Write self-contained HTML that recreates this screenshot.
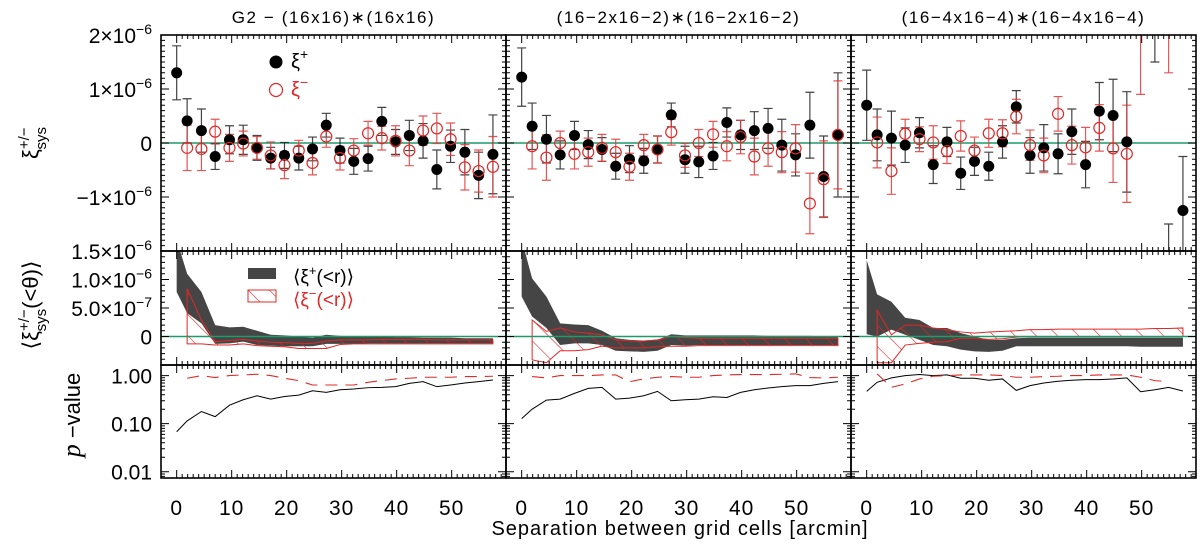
<!DOCTYPE html>
<html><head><meta charset="utf-8"><style>
html,body{margin:0;padding:0;background:#fff;}
svg{display:block;font-family:"Liberation Sans","DejaVu Sans",sans-serif;}
</style></head><body>
<svg id="chart" width="1200" height="550" viewBox="0 0 1200 550" xmlns="http://www.w3.org/2000/svg">
<defs>
<pattern id="hatch" patternUnits="userSpaceOnUse" width="15" height="15" patternTransform="rotate(-45)">
<line x1="0" y1="0" x2="0" y2="15" stroke="#e02828" stroke-width="1.2"/>
</pattern>
</defs>
</svg>
<script>
// ---------- data ----------
const panelTitles = ["G2 \u2212 (16x16)\u2217(16x16)", "(16\u22122x16\u22122)\u2217(16\u22122x16\u22122)", "(16\u22124x16\u22124)\u2217(16\u22124x16\u22124)"];
const sep = [0,1.9,4.5,7,9.6,12.1,14.6,17.1,19.6,22.2,24.7,27.2,29.7,32.2,34.8,37.3,39.8,42.3,44.8,47.3,49.8,52.4,54.9,57.5];
const xTicks = [0,10,20,30,40,50];
const topTickVals = [2,1,0,-1,-2];
const topTickMant = ["2","1","0","\u22121",""];
const midTickVals = [1.5,1.0,0.5,0];
const midTickMant = ["1.5","1.0","5.0","0"];
const midTickExp = ["\u22126","\u22126","\u22127",""];
const botTickVals = [1,0.1,0.01];
const botTickLabels = ["1.00","0.10","0.01"];

// xi+ / xi- points (units 1e-6)
const p1Plus = [1.30,0.41,0.23,-0.25,0.06,0.06,-0.09,-0.28,-0.23,-0.28,-0.11,0.33,-0.14,-0.34,-0.29,0.40,0.02,0.14,0.04,-0.49,-0.06,-0.17,-0.6,-0.21];
const p1PlusErr = [.5,.41,.4,.24,.26,.27,.23,.2,.24,.22,.22,.22,.23,.24,.23,.26,.23,.28,.32,.36,.3,.42,.43,.73];
const p1Minus = [null,-0.09,-0.11,0.21,-0.09,-0.01,-0.09,-0.23,-0.41,-0.14,-0.37,0.12,-0.28,-0.14,0.18,0.09,0.04,-0.14,0.23,0.27,0.07,-0.45,-0.52,-0.44];
const p1MinusErr = [null,.42,.4,.23,.25,.23,.21,.25,.25,.19,.22,.2,.22,.22,.22,.22,.28,.28,.27,.28,.3,.42,.39,.56];
const p2Plus = [1.22,0.31,0.07,-0.22,0.14,-0.03,-0.12,-0.43,-0.3,-0.33,-0.12,0.52,-0.31,-0.35,-0.24,0.38,0.15,0.23,0.27,-0.04,-0.22,0.33,-0.62,0.15];
const p2PlusErr = [.54,.43,.44,.26,.26,.26,.22,.24,.25,.23,.25,.22,.25,.29,.25,.27,.27,.35,.37,.48,.39,.61,.75,1.15];
const p2Minus = [null,-0.06,-0.27,0,-0.2,-0.17,-0.09,-0.17,-0.44,-0.04,-0.12,0.2,-0.23,0,0.16,-0.06,0.11,-0.25,-0.1,-0.17,-0.1,-1.12,-0.67,0.15];
const p2MinusErr = [null,.42,.42,.22,.28,.26,.25,.24,.25,.2,.25,.24,.22,.25,.24,.27,.31,.34,.33,.38,.44,.56,.71,1.0];
const p3Plus = [0.70,0.15,0.09,-0.04,0.19,-0.4,0.02,-0.56,-0.34,-0.43,0.02,0.67,-0.23,-0.09,-0.2,0.21,-0.4,0.59,0.51,0.02,null,2.6,-2.9,-1.25];
const p3PlusErr = [.65,.48,.5,.32,.28,.35,.27,.3,.26,.26,.3,.3,.33,.43,.37,.42,.43,.53,.67,.93,null,1.1,1.4,1.0];
const p3Minus = [null,0.01,-0.52,0.17,0.07,0.01,-0.15,0.13,-0.14,0.18,0.18,0.49,-0.04,-0.23,0.54,-0.04,-0.08,0.28,-0.1,-0.2,2.2,null,2.5,null];
const p3MinusErr = [null,.47,.43,.27,.23,.31,.23,.28,.25,.26,.25,.32,.28,.32,.32,.35,.37,.43,.63,.9,1.3,null,1.2,null];

// cumulative bands (units 1e-6)
const b1PlusHi = [1.7,1.10,0.78,0.20,0.16,0.17,0.10,0.03,0.02,0.00,-0.02,0.03,0.01,0.0,0.0,0.0,-0.01,-0.01,-0.02,-0.02,-0.02,-0.03,-0.03,-0.03];
const b1PlusLo = [0.78,0.41,0.23,-0.13,-0.12,-0.09,-0.15,-0.16,-0.17,-0.17,-0.17,-0.13,-0.13,-0.13,-0.12,-0.12,-0.12,-0.12,-0.12,-0.12,-0.12,-0.12,-0.12,-0.12];
const b1MinusHi = [null,0.84,0.29,-0.09,-0.07,-0.05,-0.08,-0.10,-0.11,-0.12,-0.12,-0.08,-0.06,-0.06,-0.06,-0.05,-0.05,-0.05,-0.05,-0.06,-0.06,-0.06,-0.06,-0.06];
const b1MinusLo = [null,-0.13,-0.13,-0.15,-0.15,-0.13,-0.16,-0.17,-0.18,-0.21,-0.21,-0.21,-0.14,-0.13,-0.13,-0.13,-0.13,-0.13,-0.13,-0.13,-0.13,-0.13,-0.13,-0.13];
const b2PlusHi = [1.7,1.02,0.70,0.23,0.21,0.20,0.10,-0.03,-0.06,-0.07,-0.06,0.04,0.02,0.02,0.02,0.02,0.02,0.02,0.01,0.01,0.01,0.01,0.0,0.0];
const b2PlusLo = [0.70,0.35,0.15,-0.15,-0.12,-0.12,-0.15,-0.25,-0.26,-0.27,-0.25,-0.15,-0.16,-0.15,-0.15,-0.15,-0.15,-0.15,-0.15,-0.15,-0.15,-0.15,-0.15,-0.15];
const b2MinusHi = [null,0.29,0.09,0.15,0.08,0.06,0.03,-0.06,-0.08,-0.08,-0.06,0.0,-0.02,-0.03,-0.03,-0.03,-0.03,-0.03,-0.03,-0.03,-0.03,-0.03,-0.03,-0.03];
const b2MinusLo = [null,-0.41,-0.46,-0.25,-0.25,-0.23,-0.17,-0.2,-0.2,-0.2,-0.18,-0.17,-0.17,-0.16,-0.16,-0.16,-0.16,-0.16,-0.16,-0.16,-0.16,-0.16,-0.16,-0.16];
const b3PlusHi = [1.34,0.74,0.61,0.33,0.29,0.15,0.15,0.06,0.0,-0.06,-0.06,-0.03,-0.02,-0.02,-0.02,-0.02,-0.02,-0.02,-0.02,-0.02,-0.02,-0.02,-0.02,-0.02];
const b3PlusLo = [0.04,0.0,0.12,0.03,-0.06,-0.15,-0.17,-0.23,-0.26,-0.27,-0.25,-0.17,-0.17,-0.17,-0.17,-0.17,-0.17,-0.17,-0.17,-0.17,-0.18,-0.18,-0.18,-0.18];
const b3MinusHi = [null,0.46,0.03,0.20,0.20,0.15,0.12,0.08,0.06,0.08,0.09,0.10,0.12,0.12,0.13,0.13,0.13,0.13,0.13,0.13,0.13,0.14,0.14,0.15];
const b3MinusLo = [null,-0.46,-0.46,-0.15,-0.12,-0.10,-0.09,-0.03,-0.03,-0.05,-0.04,-0.01,0,0,0,0,0,0,0,0,0,0,0,0];

// p-values
const pv1Plus = [0.068,0.114,0.179,0.140,0.242,0.314,0.380,0.324,0.368,0.393,0.484,0.447,0.508,0.525,0.560,0.569,0.588,0.690,0.748,0.588,0.637,0.702,0.748,0.811];
const pv1Minus = [null,0.88,1.0,0.908,1.0,1.033,1.066,1.0,0.88,0.785,0.637,0.637,0.637,0.637,0.725,0.785,0.851,0.88,0.923,0.923,0.923,0.953,0.953,0.968];
const pv2Plus = [0.127,0.2,0.309,0.324,0.426,0.542,0.569,0.324,0.340,0.380,0.469,0.299,0.314,0.324,0.362,0.351,0.447,0.508,0.551,0.588,0.617,0.617,0.690,0.748];
const pv2Minus = [null,0.953,0.894,1.0,1.0,1.0,1.033,1.033,0.748,0.851,0.923,0.953,0.923,0.923,1.0,1.033,1.05,1.05,1.05,1.066,1.084,0.908,0.894,0.923];
const pv3Plus = [0.469,0.725,0.894,1.0,1.05,1.0,1.033,0.88,0.88,0.798,0.851,0.492,0.617,0.702,0.761,0.798,0.824,0.824,0.851,0.894,0.462,0.508,0.569,0.477];
const pv3Minus = [null,1.084,0.569,0.669,0.851,0.968,1.0,1.033,1.033,1.033,1.0,0.923,0.923,0.953,0.968,1.0,1.0,1.033,1.033,1.033,0.923,0.785,0.748,null];

const plusSets = [p1Plus,p2Plus,p3Plus], plusErrSets=[p1PlusErr,p2PlusErr,p3PlusErr];
const minusSets = [p1Minus,p2Minus,p3Minus], minusErrSets=[p1MinusErr,p2MinusErr,p3MinusErr];
const bandPH=[b1PlusHi,b2PlusHi,b3PlusHi], bandPL=[b1PlusLo,b2PlusLo,b3PlusLo];
const bandMH=[b1MinusHi,b2MinusHi,b3MinusHi], bandML=[b1MinusLo,b2MinusLo,b3MinusLo];
const pvP=[pv1Plus,pv2Plus,pv3Plus], pvM=[pv1Minus,pv2Minus,pv3Minus];

// ---------- layout ----------
const NS="http://www.w3.org/2000/svg";
const svg=document.getElementById('chart');
const PW=345, X0=161, XMIN=-2.85, XS=5.5;
const TOP={y0:35,y1:251,min:-2,max:2};
const MID={y0:251,y1:365,min:-0.5,max:1.5};
const BOT={y0:365,y1:478,min:-2.13,max:0.22};
function el(tag,attrs,parent){const e=document.createElementNS(NS,tag);for(const k in attrs)e.setAttribute(k,attrs[k]);(parent||svg).appendChild(e);return e;}
function xPix(p,v){return X0+p*PW+(v-XMIN)*XS;}
function yLin(r,v){return r.y1-(v-r.min)/(r.max-r.min)*(r.y1-r.y0);}
function yLog(v){return yLin(BOT,Math.log10(v));}

for(let p=0;p<3;p++){
  [TOP,MID,BOT].forEach((r,i)=>{
    const cp=el('clipPath',{id:'c'+p+'_'+i});
    el('rect',{x:X0+p*PW,y:r.y0,width:PW,height:r.y1-r.y0},cp);
  });
}

for(let p=0;p<3;p++){
  const L=X0+p*PW, R=L+PW;
  const g=el('g',{});
  
  

  const t=el('text',{x:L+PW/2,y:23,'text-anchor':'middle','font-size':'17','letter-spacing':'1.6'},g);
  
  
  t.textContent=panelTitles[p];

  // ---- top panel ----
  const gt=el('g',{'clip-path':'url(#c'+p+'_0)'},g);
  
  
  el('line',{x1:L,x2:R,y1:yLin(TOP,0),y2:yLin(TOP,0),stroke:'#1f9a6a','stroke-width':1.6},gt);
  const drawErr=(vals,errs,color,op)=>{
    vals.forEach((v,i)=>{ if(v===null)return; const x=xPix(p,sep[i]), e=errs[i];
      const y1=yLin(TOP,v+e), y2=yLin(TOP,v-e);
      const eb=el('path',{d:`M${x},${y1}V${y2}M${x-4.5},${y1}H${x+4.5}M${x-4.5},${y2}H${x+4.5}`,stroke:color,'stroke-width':1.2,fill:'none',opacity:op},gt);
      
      
    });
  };
  drawErr(plusSets[p],plusErrSets[p],'#222',0.85);
  drawErr(minusSets[p],minusErrSets[p],'#e03a3a',0.85);
  plusSets[p].forEach((v,i)=>{ if(v===null)return;
    const c=el('circle',{cx:xPix(p,sep[i]),cy:yLin(TOP,v),r:5.5,fill:'#000'},gt);
    
    
  });
  minusSets[p].forEach((v,i)=>{ if(v===null)return;
    const c=el('circle',{cx:xPix(p,sep[i]),cy:yLin(TOP,v),r:5.5,fill:'none',stroke:'#e02828','stroke-width':1.2},gt);
    
    
  });

  // ---- middle panel ----
  const gm=el('g',{'clip-path':'url(#c'+p+'_1)'},g);
  
  
  const bandPath=(hi,lo)=>{
    const up=[],dn=[];
    hi.forEach((v,i)=>{ if(v===null)return; up.push(xPix(p,sep[i])+','+yLin(MID,v)); dn.unshift(xPix(p,sep[i])+','+yLin(MID,lo[i])); });
    return 'M'+up.join('L')+'L'+dn.join('L')+'Z';
  };
  const bp=el('path',{d:bandPath(bandPH[p],bandPL[p]),fill:'#454545'},gm);
  
  
  const bm=el('path',{d:bandPath(bandMH[p],bandML[p]),fill:'url(#hatch)',stroke:'#e02828','stroke-width':1},gm);
  
  
  el('line',{x1:L,x2:R,y1:yLin(MID,0),y2:yLin(MID,0),stroke:'#1f9a6a','stroke-width':1.6},gm);

  // ---- bottom panel ----
  const gb=el('g',{'clip-path':'url(#c'+p+'_2)'},g);
  
  
  const linePath=(vals)=>{let d='';vals.forEach((v,i)=>{if(v===null)return;d+=(d?'L':'M')+xPix(p,sep[i])+','+yLog(v);});return d;};
  const lp=el('path',{d:linePath(pvP[p]),stroke:'#000','stroke-width':1,fill:'none'},gb);
  
  
  const lm=el('path',{d:linePath(pvM[p]),stroke:'#e02828','stroke-width':1.1,fill:'none','stroke-dasharray':'12,8'},gb);
  
  

  // ---- frames & ticks ----
  let d='';
  [TOP,MID,BOT].forEach((r,ri)=>{
    for(let v=0;v<=59;v++){ const x=xPix(p,v); const len=(v%10===0)?8:4;
      d+=`M${x},${r.y1}v${-len}M${x},${r.y0}v${len}`; }
    if(ri<2){
      const step=0.1;
      for(let k=Math.round(r.min/step);k<=Math.round(r.max/step);k++){
        const v=k*step, y=yLin(r,v); const major=(ri===0? k%10===0 : k%5===0);
        const len=major?8:4; d+=`M${L},${y}h${len}M${R},${y}h${-len}`;
      }
    } else {
      for(let e=-3;e<=0;e++) for(let m=1;m<=9;m++){ const v=m*Math.pow(10,e); const lv=Math.log10(v);
        if(lv<r.min||lv>r.max)continue; const y=yLog(v); const len=m===1?8:4;
        d+=`M${L},${y}h${len}M${R},${y}h${-len}`; }
    }
  });
  const tk=el('path',{d:d,stroke:'#000','stroke-width':1,fill:'none'},g);
  
  
  [TOP,MID,BOT].forEach(r=>{
    const fr=el('rect',{x:L,y:r.y0,width:PW,height:r.y1-r.y0,fill:'none',stroke:'#000','stroke-width':1.6},g);
    
    
  });

  xTicks.forEach(v=>{
    const tl=el('text',{x:xPix(p,v),y:515,'text-anchor':'middle','font-size':'21','letter-spacing':'1'},g);
    
    
    tl.textContent=String(v);
  });
}

function expLabel(y,mant,exp,name){
  const t=el('text',{x:152,y:y,'text-anchor':'end','font-size':'21'});
  
  
  if(exp){ t.appendChild(document.createTextNode(mant+'\u00d710'));
    const s=el('tspan',{'font-size':'14',dy:'-9'},t); s.textContent=exp; }
  else t.textContent=mant;
}
topTickVals.forEach((v,i)=>{ if(!topTickMant[i])return; expLabel(yLin(TOP,v)+8,topTickMant[i],v===0?'':'\u22126','y-tick-label-top'); });
midTickVals.forEach((v,i)=>{ expLabel(yLin(MID,v)+8,midTickMant[i],midTickExp[i],'y-tick-label-middle'); });
botTickVals.forEach((v,i)=>{ const t=el('text',{x:152,y:yLog(v)+8,'text-anchor':'end','font-size':'21'});
  
  
  t.textContent=botTickLabels[i]; });

// legends
const lg=el('g',{});


el('circle',{cx:276,cy:62,r:6.5,fill:'#000'},lg);
let lt=el('text',{x:291,y:68,'font-size':'20'},lg); lt.textContent='\u03be'; let ls=el('tspan',{dy:'-9','font-size':'14'},lt); ls.textContent='+';
el('circle',{cx:276,cy:90,r:6.5,fill:'none',stroke:'#e02828','stroke-width':1.2},lg);
lt=el('text',{x:291,y:96,'font-size':'20',fill:'#e02828'},lg); lt.textContent='\u03be'; ls=el('tspan',{dy:'-9','font-size':'14'},lt); ls.textContent='\u2212';
el('rect',{x:248,y:268,width:28,height:11,fill:'#454545'},lg);
lt=el('text',{x:293,y:283,'font-size':'19'},lg); lt.textContent='\u27e8\u03be'; ls=el('tspan',{dy:'-8','font-size':'13'},lt); ls.textContent='+'; ls=el('tspan',{dy:'8'},lt); ls.textContent='(<r)\u27e9';
el('rect',{x:248,y:290,width:28,height:12,fill:'url(#hatch)',stroke:'#e02828','stroke-width':1},lg);
lt=el('text',{x:293,y:306,'font-size':'19',fill:'#e02828'},lg); lt.textContent='\u27e8\u03be'; ls=el('tspan',{dy:'-8','font-size':'13'},lt); ls.textContent='\u2212'; ls=el('tspan',{dy:'8'},lt); ls.textContent='(<r)\u27e9';

// axis titles
let at=el('text',{x:0,y:0,'font-size':'22','text-anchor':'middle',transform:'translate(38,143) rotate(-90)'});


at.appendChild(document.createTextNode('\u03be'));
ls=el('tspan',{dy:'-9','font-size':'15'},at); ls.textContent='+/\u2212';
ls=el('tspan',{dx:'-22',dy:'17','font-size':'15'},at); ls.textContent='sys';

at=el('text',{x:0,y:0,'font-size':'22','text-anchor':'middle',transform:'translate(38,305) rotate(-90)'});


at.appendChild(document.createTextNode('\u27e8\u03be'));
ls=el('tspan',{dy:'-9','font-size':'15'},at); ls.textContent='+/\u2212';
ls=el('tspan',{dx:'-22',dy:'17','font-size':'15'},at); ls.textContent='sys';
ls=el('tspan',{dy:'-8'},at); ls.textContent='(<\u03b8)\u27e9';

at=el('text',{x:0,y:0,'font-size':'22','text-anchor':'middle',transform:'translate(80,415) rotate(-90)'});


ls=el('tspan',{'font-style':'italic','font-family':'Liberation Serif, serif','font-size':'26'},at); ls.textContent='p';
ls=el('tspan',{},at); ls.textContent=' \u2212value';

at=el('text',{x:680,y:535,'font-size':'20','text-anchor':'middle','letter-spacing':'1'});


at.textContent='Separation between grid cells [arcmin]';
</script>
</body></html>
